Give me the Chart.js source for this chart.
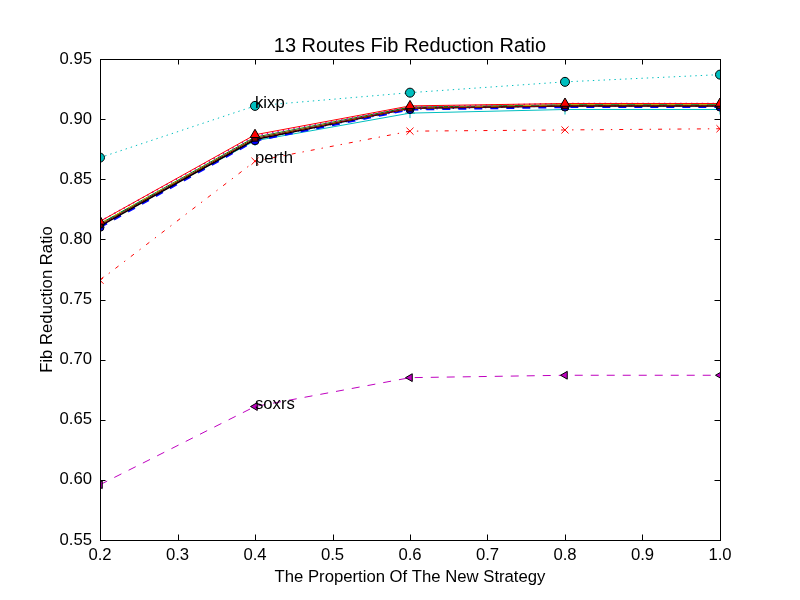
<!DOCTYPE html>
<html>
<head>
<meta charset="utf-8">
<script src="https://cdn.jsdelivr.net/npm/chart.js@4"></script>
<style>
  html, body { margin: 0; padding: 0; background: #fff; }
  #wrap { width: 800px; height: 600px; }
</style>
</head>
<body>
<div id="wrap"><canvas id="chart"></canvas></div>
<script>
// Share of routes using the new strategy (x) and the FIB reduction ratio per route.
const proportions = [0.2, 0.4, 0.6, 0.8, 1.0]
const xTicks = [0.2, 0.3, 0.4, 0.5, 0.6, 0.7, 0.8, 0.9, 1.0]
const yTicks = [0.55, 0.60, 0.65, 0.70, 0.75, 0.80, 0.85, 0.90, 0.95]

const kixp = [0.868, 0.911, 0.922, 0.931, 0.937]
const perth = [0.766, 0.865, 0.890, 0.891, 0.892]
const soxrs = [0.596, 0.661, 0.685, 0.687, 0.687]

// the ten routes that overlap in one band
const routeA = [0.810, 0.882, 0.908, 0.910, 0.910]
const routeB = [0.811, 0.883, 0.909, 0.911, 0.911]
const routeC = [0.815, 0.887, 0.911, 0.913, 0.913]
const routeD = [0.813, 0.882, 0.905, 0.908, 0.908]
const routeE = [0.815, 0.886, 0.910, 0.913, 0.913]
const routeF = [0.813, 0.884, 0.909, 0.912, 0.912]
const routeG = [0.812, 0.884, 0.909, 0.911, 0.911]
const routeH = [0.812, 0.884, 0.909, 0.911, 0.911]
const routeI = [0.811, 0.883, 0.908, 0.911, 0.911]
const routeJ = [0.813, 0.885, 0.910, 0.912, 0.912]

const labelled = [["kixp", kixp], ["perth", perth], ["soxrs", soxrs]]
const chartTitle = "13 Routes Fib Reduction Ratio"

const FONT = "'Liberation Sans', Arial, sans-serif"
const DOTTED = [1.4, 4]
const DASHED = [8, 8]
const DASHDOT = [4, 7, 1.4, 7]

const points = values => values.map((y, i) => ({ x: proportions[i], y }))

const series = (label, values, color, opts = {}) => ({
  label,
  data: points(values),
  borderColor: color,
  backgroundColor: opts.fill || color,
  borderWidth: opts.width || 1,
  borderDash: opts.dash || [],
  pointStyle: opts.marker || false,
  pointRadius: opts.marker ? (opts.radius || 4.5) : 0,
  pointRotation: opts.rotation || 0,
  pointBorderColor: opts.edge || "#000",
  pointBorderWidth: 1,
  tension: 0,
  clip: 0
})

// Chart.js paints index 0 last, so the top-most route comes first
const datasets = [
  series("route c", routeC, "#ff0000", { marker: "triangle", fill: "#ff0000", radius: 5.5 }),
  series("route e", routeE, "#bf00bf", { dash: DOTTED, width: 1.5 }),
  series("route h", routeH, "#800000", { marker: "rect", fill: "#800000", radius: 4 }),
  series("route f", routeF, "#bfbf00", { dash: DASHED }),
  series("route b", routeB, "#000000", { width: 1.5 }),
  series("route g", routeG, "#008000", { dash: DASHDOT }),
  series("route j", routeJ, "#008000", { marker: "rect", fill: "#008000", radius: 3 }),
  series("route a", routeA, "#0000ff", { dash: DASHED, width: 2, marker: "circle", fill: "#0000ff", radius: 4 }),
  series("route i", routeI, "#0000ff", { dash: DOTTED }),
  series("route d", routeD, "#00bfbf", { marker: "cross", edge: "#00bfbf", radius: 5 }),
  series("kixp", kixp, "#00bfbf", { dash: DOTTED, marker: "circle", fill: "#00bfbf" }),
  series("perth", perth, "#ff0000", { dash: DASHDOT, marker: "crossRot", edge: "#ff0000", radius: 5 }),
  series("soxrs", soxrs, "#bf00bf", { dash: DASHED, marker: "triangle", fill: "#bf00bf", rotation: -90 })
]

// matplotlib-style frame, inward ticks on all sides, title over the plot and text annotations
const framePlugin = {
  id: "frame",
  afterDatasetsDraw (chart) {
    const { ctx, chartArea: a, scales } = chart
    const len = 5.5
    ctx.save()
    ctx.strokeStyle = "#000"
    ctx.lineWidth = 1
    ctx.beginPath()
    scales.x.ticks.forEach((t, i) => {
      const px = Math.round(scales.x.getPixelForTick(i)) + 0.5
      ctx.moveTo(px, a.bottom); ctx.lineTo(px, a.bottom - len)
      ctx.moveTo(px, a.top); ctx.lineTo(px, a.top + len)
    })
    scales.y.ticks.forEach((t, i) => {
      const py = Math.round(scales.y.getPixelForTick(i)) + 0.5
      ctx.moveTo(a.left, py); ctx.lineTo(a.left + len, py)
      ctx.moveTo(a.right, py); ctx.lineTo(a.right - len, py)
    })
    ctx.stroke()
    ctx.strokeRect(Math.round(a.left) + 0.5, Math.round(a.top) + 0.5,
      Math.round(a.right - a.left), Math.round(a.bottom - a.top))

    ctx.fillStyle = "#000"
    ctx.textAlign = "center"
    ctx.textBaseline = "middle"
    ctx.font = `20px ${FONT}`
    ctx.fillText(chartTitle, (a.left + a.right) / 2, 46)

    ctx.font = `16.7px ${FONT}`
    ctx.textAlign = "left"
    ctx.textBaseline = "alphabetic"
    labelled.forEach(([name, values]) => {
      ctx.fillText(name, scales.x.getPixelForValue(proportions[1]), scales.y.getPixelForValue(values[1]) + 2)
    })
    ctx.restore()
  }
}

new Chart(document.getElementById("chart"), {
  type: "line",
  data: { datasets },
  plugins: [framePlugin],
  options: {
    responsive: true,
    maintainAspectRatio: false,
    animation: false,
    layout: { padding: { left: 0, right: 80, top: 59, bottom: 0 } },
    plugins: {
      legend: { display: false },
      tooltip: { enabled: false },
      title: { display: false }
    },
    scales: {
      x: {
        type: "linear",
        min: 0.2,
        max: 1.0,
        afterBuildTicks: scale => { scale.ticks = xTicks.map(value => ({ value })) },
        afterFit: scale => { scale.height = 60 },
        grid: { display: false, drawTicks: false },
        border: { display: false },
        ticks: {
          color: "#000",
          padding: 5,
          font: { family: FONT, size: 16.7 },
          callback: value => value.toFixed(1)
        },
        title: {
          display: true,
          text: "The Propertion Of The New Strategy",
          color: "#000",
          font: { family: FONT, size: 16.7 },
          padding: 13
        }
      },
      y: {
        type: "linear",
        min: 0.55,
        max: 0.95,
        afterBuildTicks: scale => { scale.ticks = yTicks.map(value => ({ value })) },
        afterFit: scale => { scale.width = 100 },
        grid: { display: false, drawTicks: false },
        border: { display: false },
        ticks: {
          color: "#000",
          padding: 8,
          font: { family: FONT, size: 16.7 },
          callback: value => value.toFixed(2)
        },
        title: {
          display: true,
          text: "Fib Reduction Ratio",
          color: "#000",
          font: { family: FONT, size: 16.7 },
          padding: 37
        }
      }
    }
  }
})
</script>
</body>
</html>
